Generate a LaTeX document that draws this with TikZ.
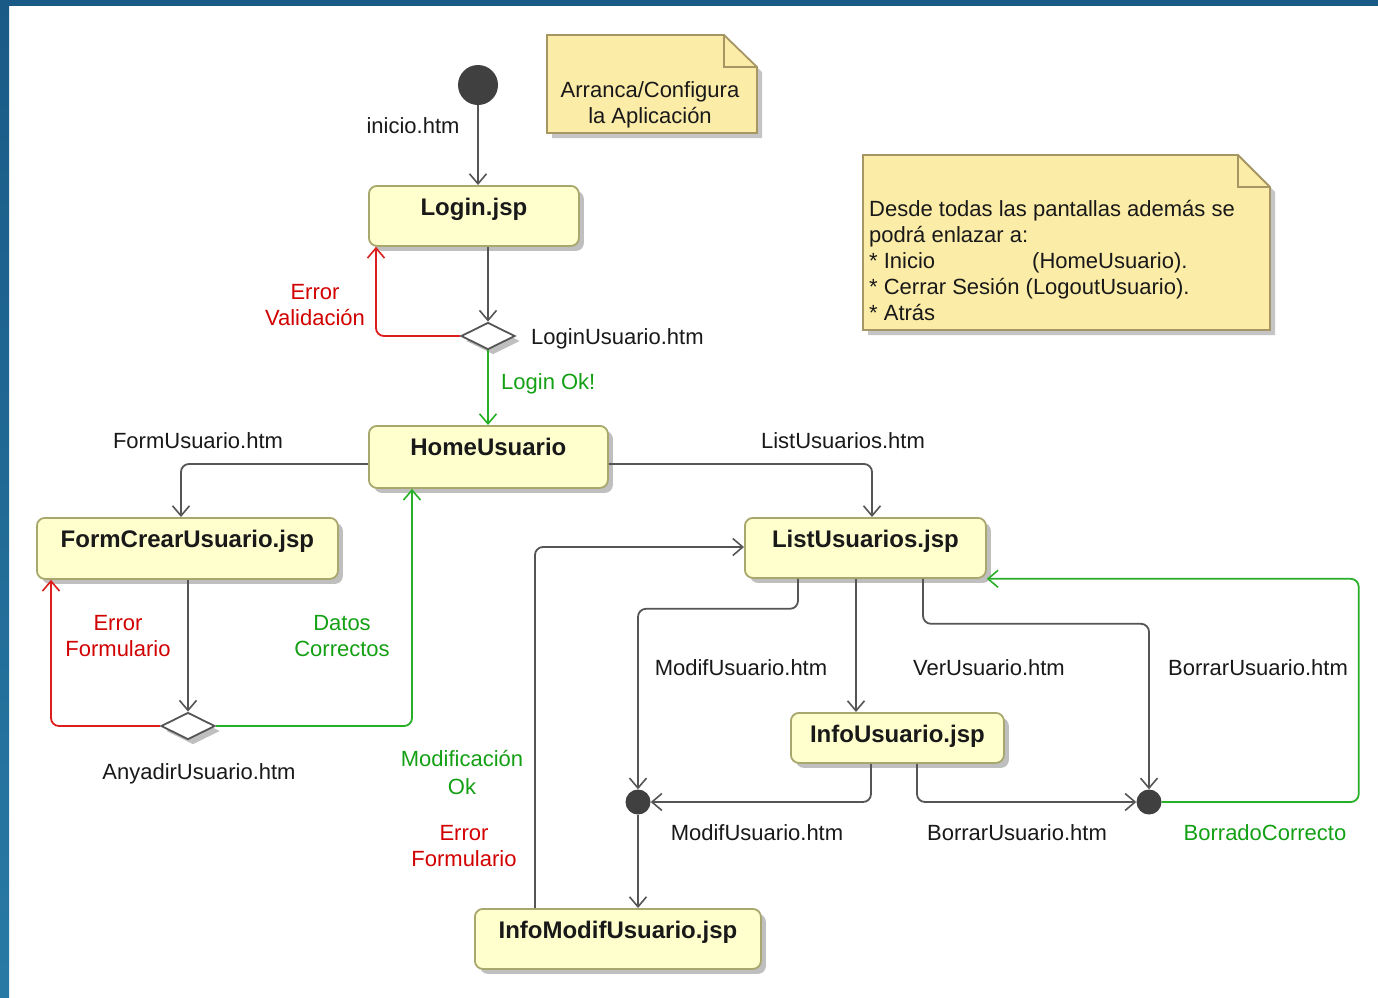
\documentclass[tikz,border=0pt]{standalone}
\usepackage{fontspec}
\setmainfont{Liberation Sans}
\usetikzlibrary{arrows.meta,shapes.geometric,shadows,calc}

\definecolor{boxfill}{RGB}{255,255,206}
\definecolor{boxline}{RGB}{168,168,110}
\definecolor{notefill}{RGB}{251,236,168}
\definecolor{noteline}{RGB}{165,150,100}
\definecolor{conn}{RGB}{85,85,85}
\definecolor{okline}{RGB}{40,175,40}
\definecolor{errline}{RGB}{220,30,30}
\definecolor{oktext}{RGB}{20,160,20}
\definecolor{errtext}{RGB}{210,0,0}
\definecolor{dot}{RGB}{64,64,64}
\definecolor{frameA}{RGB}{26,90,135}
\definecolor{frameB}{RGB}{40,122,165}

\begin{document}
\begin{tikzpicture}[x=1pt,y=-1pt,
  every node/.style={font=\fontsize{22}{26}\selectfont, text=black!90},
  boxshadow/.style={drop shadow={shadow xshift=5pt,shadow yshift=-5pt,fill=black!50,opacity=.5}},
  stepbox/.style={rectangle, rounded corners=8pt, draw=boxline, line width=1.8pt,
    fill=boxfill, boxshadow, anchor=north west, inner xsep=0pt, inner ysep=0pt,
    text height=29.5pt, font=\bfseries\fontsize{24}{28}\selectfont},
  choice/.style={diamond, draw=conn, line width=1.8pt, fill=white, boxshadow,
    minimum width=54pt, minimum height=27pt, inner sep=0pt},
  dotnode/.style={circle, fill=dot, inner sep=0pt},
  lbl/.style={anchor=base, align=center, inner sep=0pt},
  link/.style={draw=conn, line width=1.8pt, rounded corners=8pt,
    -{Straight Barb[length=10pt,width=17pt,line width=1.6pt]}},
  errlink/.style={link, draw=errline},
  oklink/.style={link, draw=okline},
  notestyle/.style={fill=notefill, draw=noteline, line width=1.8pt},
  noteshadow/.style={fill=black!45, opacity=.5}
]
% page and frame
\useasboundingbox (0,0) rectangle (1378,997);
\fill[white] (0,0) rectangle (1378,997);
\fill[frameA] (0,0) rectangle (1378,6);
\shade[top color=frameA, bottom color=frameB] (0,0) rectangle (9,997);

% notes (multi-line text: the base anchor sits on the last line)
\fill[noteshadow] (552,40) -- (729,40) -- (762,72) -- (762,138) -- (552,138) -- cycle;
\filldraw[notestyle] (547,35) -- (724,35) -- (757,67) -- (757,133) -- (547,133) -- cycle;
\draw[noteline, line width=1.8pt] (724,35) -- (724,67) -- (757,67);
\node[lbl] (note1) at (650,123) {Arranca/Configura\\la Aplicación};

\fill[noteshadow] (868,160) -- (1243,160) -- (1275,192) -- (1275,335) -- (868,335) -- cycle;
\filldraw[notestyle] (863,155) -- (1238,155) -- (1270,187) -- (1270,330) -- (863,330) -- cycle;
\draw[noteline, line width=1.8pt] (1238,155) -- (1238,187) -- (1270,187);
\node[anchor=base west, align=left, inner sep=0pt] (note2) at (869,320)
  {Desde todas las pantallas además se\\podrá enlazar a:\\\makebox[163pt][l]{* Inicio}(HomeUsuario).\\* Cerrar Sesión (LogoutUsuario).\\* Atrás};

% states
\node[dotnode, minimum size=40pt] (start) at (478,85) {};
\node[stepbox, minimum width=210pt, text depth=30.5pt] (login) at (368,185) {Login.jsp};
\node[choice] (dia1) at (488,336) {};
\node[stepbox, minimum width=239pt, text depth=32.5pt] (home) at (368,425) {HomeUsuario};
\node[stepbox, minimum width=301pt, text depth=31.5pt] (form) at (36,517) {FormCrearUsuario.jsp};
\node[choice] (dia2) at (188,726) {};
\node[stepbox, minimum width=241pt, text depth=30.5pt] (list) at (744,517) {ListUsuarios.jsp};
\node[stepbox, minimum width=213pt, text depth=20.5pt] (info) at (790,712) {InfoUsuario.jsp};
\node[dotnode, minimum size=25pt] (m1) at (638,802) {};
\node[dotnode, minimum size=25pt] (m2) at (1149,802) {};
\node[stepbox, minimum width=286pt, text depth=30.5pt] (imod) at (474,908) {InfoModifUsuario.jsp};

% transitions
\draw[link] (start) -- (start |- login.north);
\draw[link] (login.south -| dia1.north) -- (dia1.north);
\draw[errlink] (dia1.west) -| ($(login.south west)+(8,0)$);
\draw[oklink] (dia1.south) -- (dia1.south |- home.north);
\draw[link] ($(home.north west)+(0,39)$) -| ($(form.north west)+(145,0)$);
\draw[link] ($(home.north east)+(0,39)$) -| ($(list.north west)+(128,0)$);
\draw[link] ($(form.south west)+(152,0)$) -- (dia2.north);
\draw[errlink] (dia2.west) -| ($(form.south west)+(15,0)$);
\draw[oklink] (dia2.east) -| ($(home.south west)+(44,0)$);
\draw[link] ($(imod.north west)+(61,0)$) |- ($(list.north west)+(0,30)$);
\draw[link] ($(list.south west)+(54,0)$) -- ++(0,30) -| (m1.north);
\draw[link] ($(list.south west)+(112,0)$) -- ($(info.north west)+(66,0)$);
\draw[link] ($(list.south west)+(179,0)$) -- ++(0,45) -| (m2.north);
\draw[oklink] (m2.east) -- ++(197,0) |- (list.south east);
\draw[link] ($(info.south west)+(81,0)$) |- (m1.east);
\draw[link] ($(info.south west)+(127,0)$) |- (m2.west);
\draw[link] (m1.south) -- (m1.south |- imod.north);

% transition labels
\node[lbl] (tstart) at (413,133) {inicio.htm};
\node[lbl, text=errtext] (terr1) at (315,325) {Error\\Validación};
\node[lbl, anchor=base west] (tlogin) at (531,344) {LoginUsuario.htm};
\node[lbl, anchor=base west, text=oktext] (tok) at (501,389) {Login Ok!};
\node[lbl] (tform) at (198,448) {FormUsuario.htm};
\node[lbl] (tlist) at (843,448) {ListUsuarios.htm};
\node[lbl, text=errtext] (terr2) at (118,656) {Error\\Formulario};
\node[lbl, text=oktext] (tdatos) at (342,656) {Datos\\Correctos};
\node[lbl] (tadd) at (199,779) {AnyadirUsuario.htm};
\node[lbl, text=oktext] (tmodok) at (462,794) {Modificación\\[2pt]Ok};
\node[lbl, text=errtext] (terr3) at (464,866) {Error\\Formulario};
\node[lbl] (tmod1) at (741,675) {ModifUsuario.htm};
\node[lbl] (tver) at (989,675) {VerUsuario.htm};
\node[lbl] (tdel1) at (1258,675) {BorrarUsuario.htm};
\node[lbl] (tmod2) at (757,840) {ModifUsuario.htm};
\node[lbl] (tdel2) at (1017,840) {BorrarUsuario.htm};
\node[lbl, text=oktext] (tdelok) at (1265,840) {BorradoCorrecto};
\end{tikzpicture}
\end{document}
